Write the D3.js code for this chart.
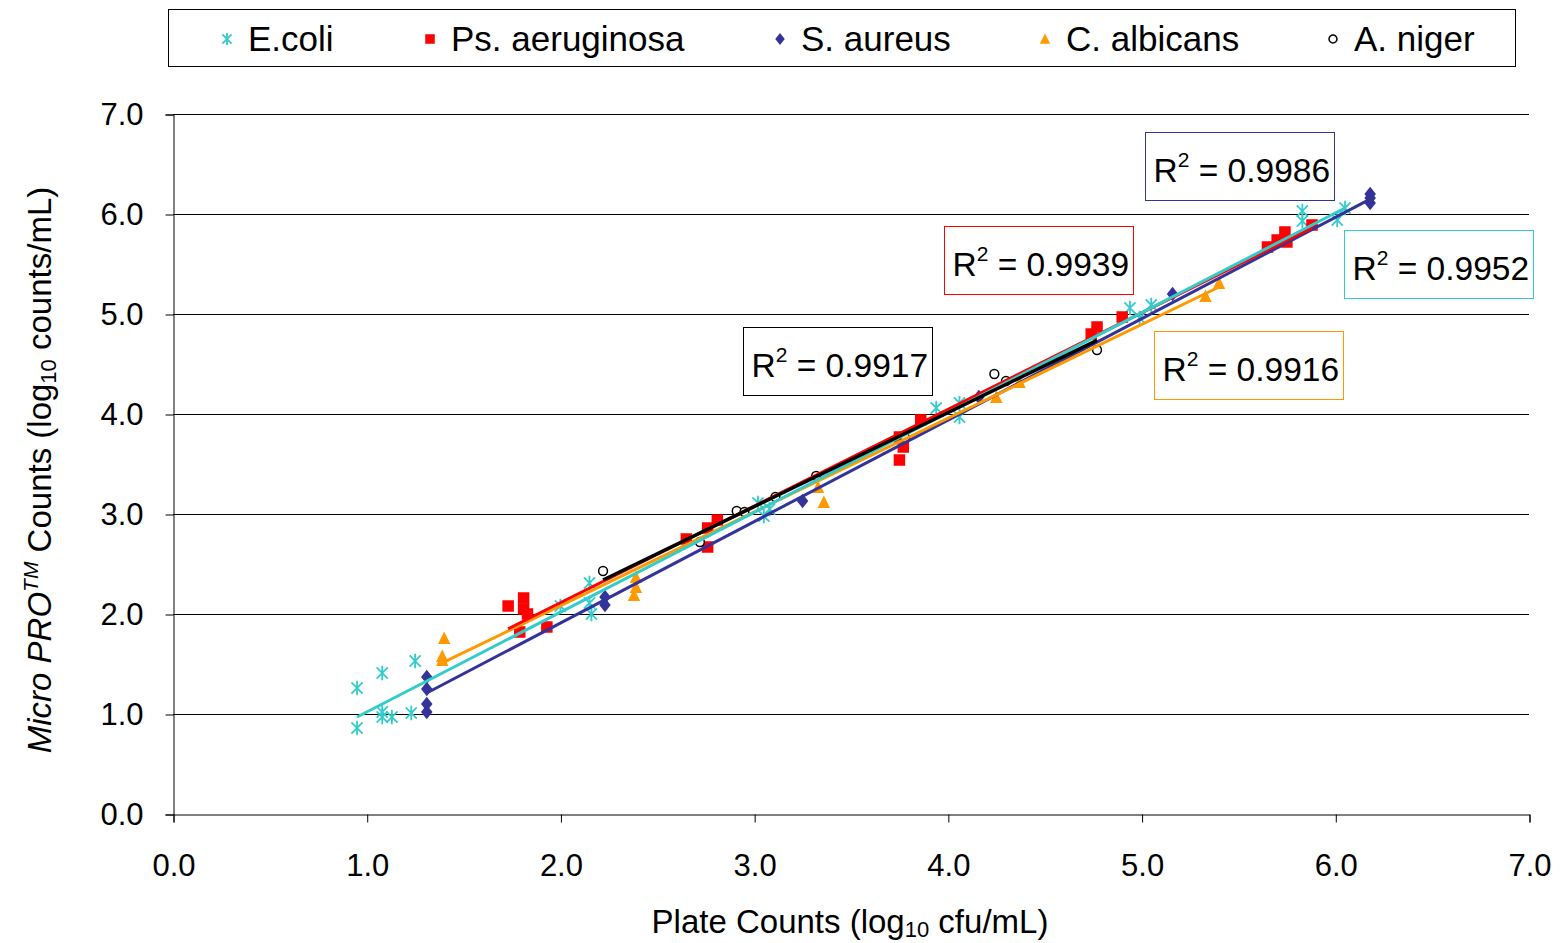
<!DOCTYPE html>
<html><head><meta charset="utf-8">
<script src="https://cdn.jsdelivr.net/npm/d3@7"></script>
<style>body{margin:0;background:#fff}svg{display:block}text{font-family:"Liberation Sans",Arial,sans-serif}</style>
</head><body><svg id="c" width="1564" height="943"></svg>
<script>
// ---- data ----
const seriesNames = ["E.coli","Ps. aeruginosa","S. aureus","C. albicans","A. niger"];
const ecoliX = [0.95,0.95,1.08,1.08,1.08,1.13,1.23,1.25,2.00,2.15,2.15,2.16,3.02,3.05,3.08,3.94,4.06,4.06,4.94,4.99,5.05,5.83,5.83,6.01,6.05];
const ecoliY = [1.26,0.86,1.41,1.02,0.97,0.97,1.01,1.53,2.08,2.31,2.11,2.00,3.11,2.98,3.05,4.06,4.11,3.97,5.06,4.96,5.09,6.03,5.93,5.94,6.06];
const psX = [1.73,1.81,1.81,1.83,1.79,1.93,2.65,2.76,2.81,2.76,3.75,3.77,3.75,3.86,4.74,4.77,4.90,5.65,5.70,5.74,5.75,5.88];
const psY = [2.08,2.16,2.05,2.00,1.82,1.87,2.75,2.86,2.94,2.67,3.77,3.67,3.54,3.94,4.80,4.87,4.97,5.67,5.74,5.82,5.72,5.89];
const saX = [1.31,1.31,1.31,1.31,2.23,2.23,3.25,4.16,5.16,6.18,6.18,6.18];
const saY = [1.37,1.25,1.10,1.02,2.17,2.09,3.13,4.17,5.20,6.20,6.16,6.11];
const caX = [1.40,1.39,1.39,2.39,2.39,2.38,3.33,3.36,4.25,4.37,5.33,5.40];
const caY = [1.76,1.58,1.54,2.37,2.27,2.19,3.27,3.12,4.17,4.32,5.18,5.31];
const anX = [2.22,2.72,2.91,2.95,3.11,3.32,3.78,4.24,4.30,4.77];
const anY = [2.43,2.72,3.03,3.02,3.17,3.38,3.76,4.40,4.33,4.64];
// trendline coefficients (slope, intercept) and R² labels
const trendSlope = [0.998,0.966,1.014,0.9375,0.94];
const trendIntercept = [0.022,0.181,-0.118,0.2075,0.253];
const r2Labels = ["0.9952","0.9939","0.9986","0.9916","0.9917"];
const tickValues = [0,1,2,3,4,5,6,7];

// ---- styles ----
const colors = ["#33CCCC","#FF0000","#333399","#FF9900","#000000"];
const xs = [ecoliX,psX,saX,caX,anX], ys=[ecoliY,psY,saY,caY,anY];
const svg = d3.select("#c");
const x = d3.scaleLinear().domain([0,7]).range([173,1529]);
const y = d3.scaleLinear().domain([0,7]).range([814,114]);

// grid
svg.append("g").selectAll("line").data(tickValues.slice(1)).join("line")
  .attr("x1",173).attr("x2",1529).attr("y1",d=>Math.round(y(d))+0.5).attr("y2",d=>Math.round(y(d))+0.5)
  .attr("stroke","#000").attr("stroke-width",1);

// axes
const fmt = d3.format(".1f");
const gy = svg.append("g").attr("transform","translate(173.5,0.5)")
  .call(d3.axisLeft(y).tickValues(tickValues).tickFormat(fmt).tickSizeOuter(0).tickSize(8).tickPadding(22));
const gx = svg.append("g").attr("transform","translate(0.5,814.5)")
  .call(d3.axisBottom(x).tickValues(tickValues).tickFormat(fmt).tickSizeOuter(0).tickSize(8).tickPadding(31));
[gx,gy].forEach(g=>{
  g.select(".domain").attr("stroke","#000");
  g.selectAll(".tick line").attr("stroke","#000");
  g.selectAll("text").attr("font-size",31).attr("fill","#000").style("font-family","Liberation Sans, Arial, sans-serif");
});

// markers
function marker(g, i, s){
  const c = colors[i];
  if(i===0){
    const r=s*0.62, d=r*0.78;
    g.append("path").attr("d",`M0,${-r}L0,${r}M${-d},${-d}L${d},${d}M${-d},${d}L${d},${-d}`)
      .attr("stroke",c).attr("stroke-width",1.8).attr("fill","none");
  } else if(i===1){
    g.append("rect").attr("x",-s/2).attr("y",-s/2).attr("width",s).attr("height",s).attr("fill",c);
  } else if(i===2){
    const w=s*0.5,h=s*0.64;
    g.append("path").attr("d",`M0,${-h}L${w},0L0,${h}L${-w},0Z`).attr("fill",c);
  } else if(i===3){
    const w=s*0.54;
    g.append("path").attr("d",`M0,${-w*1.05}L${w},${w*0.95}L${-w},${w*0.95}Z`).attr("fill",c);
  } else {
    g.append("circle").attr("r",s*0.42).attr("fill","#fff").attr("stroke",c).attr("stroke-width",1.5);
  }
}
const sizes=[11.5,11.5,11.5,11.5,10.5];
xs.forEach((xa,i)=>{
  const g = svg.append("g");
  xa.forEach((xv,j)=>{
    marker(g.append("g").attr("transform",`translate(${x(xv)},${y(ys[i][j])})`), i, sizes[i]);
  });
});

// trendlines
const drawOrder=[2,3,1,0,4];
drawOrder.forEach(i=>{
  const ext = d3.extent(xs[i]);
  svg.append("line")
    .attr("x1",x(ext[0])).attr("y1",y(trendIntercept[i]+trendSlope[i]*ext[0]))
    .attr("x2",x(ext[1])).attr("y2",y(trendIntercept[i]+trendSlope[i]*ext[1]))
    .attr("stroke",colors[i]).attr("stroke-width",i===4?3.5:3);
});

// R² boxes
const boxPos = [[1344,230],[944,226],[1145,132],[1154,331],[743,327]];
boxPos.forEach((p,i)=>{
  const g = svg.append("g").attr("transform",`translate(${p[0]+0.5},${p[1]+0.5})`);
  g.append("rect").attr("width",189).attr("height",68).attr("fill","#fff").attr("stroke",colors[i]).attr("stroke-width",1);
  const t = g.append("text").attr("x",8).attr("y",49).attr("font-size",33.5).attr("fill","#000");
  t.append("tspan").text("R");
  t.append("tspan").attr("dy",-15).attr("font-size",21).text("2");
  t.append("tspan").attr("dy",15).text(" = "+r2Labels[i]);
});

// legend
const lg = svg.append("g");
lg.append("rect").attr("x",168.5).attr("y",9.5).attr("width",1347).attr("height",57).attr("fill","#fff").attr("stroke","#000");
const legX=[227,430,780,1045,1333];
seriesNames.forEach((n,i)=>{
  marker(lg.append("g").attr("transform",`translate(${legX[i]},39)`), i, 9.5);
  lg.append("text").attr("x",legX[i]+21).attr("y",51).attr("font-size",35).attr("fill","#000").text(n);
});

// axis titles
const xt = svg.append("text").attr("x",850).attr("y",933).attr("text-anchor","middle").attr("font-size",33).attr("fill","#000");
xt.append("tspan").text("Plate Counts (log");
xt.append("tspan").attr("font-size",22).attr("dy",4).text("10");
xt.append("tspan").attr("dy",-4).text(" cfu/mL)");

const yt = svg.append("text").attr("transform","translate(51,470) rotate(-90)").attr("text-anchor","middle").attr("font-size",33).attr("fill","#000");
yt.append("tspan").attr("font-style","italic").text("Micro PRO");
yt.append("tspan").attr("font-style","italic").attr("font-size",21).attr("dy",-13).text("TM");
yt.append("tspan").attr("dy",13).text(" Counts (log");
yt.append("tspan").attr("font-size",22).attr("dy",5).text("10");
yt.append("tspan").attr("dy",-5).text(" counts/mL)");
</script></body></html>
